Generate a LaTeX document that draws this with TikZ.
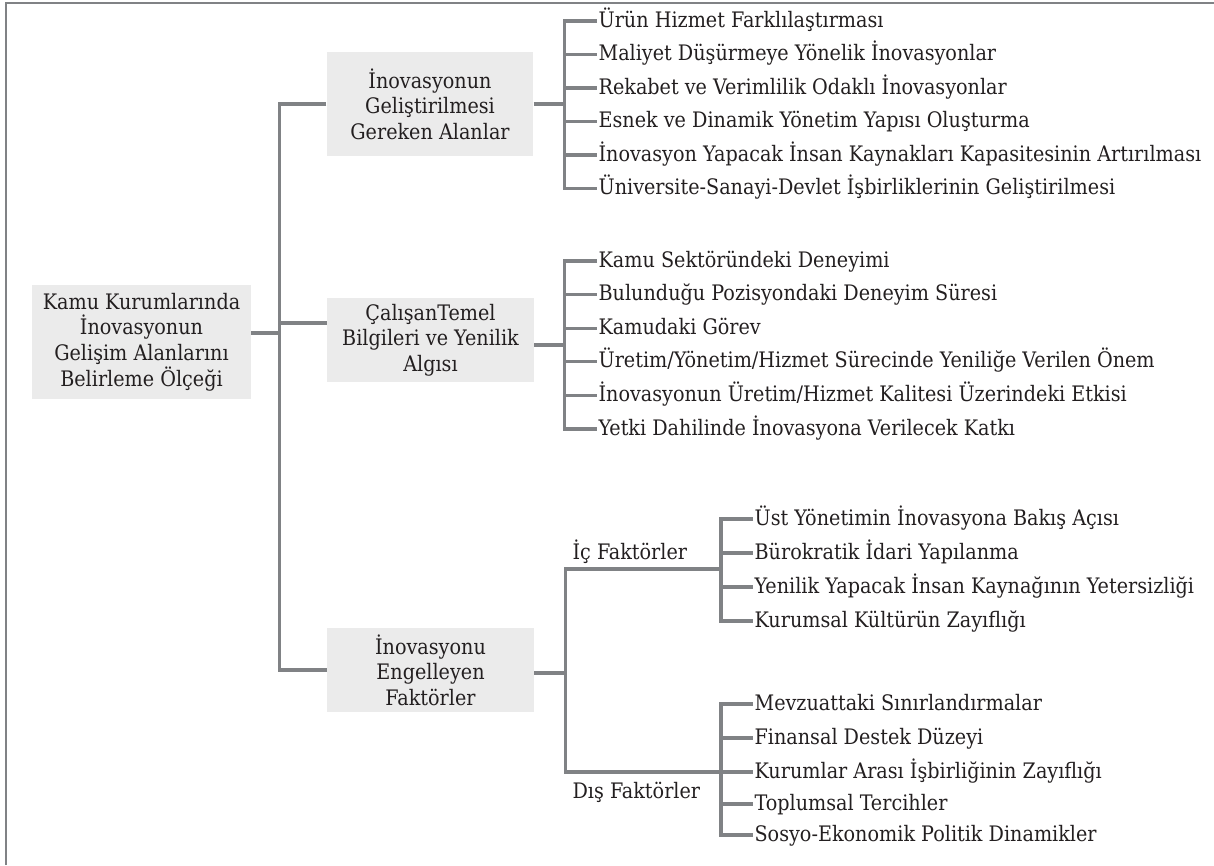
\documentclass[tikz,border=0pt]{standalone}
\usepackage{fontspec}
\setmainfont{DejaVu Serif Condensed}
\usetikzlibrary{calc}
\definecolor{linegray}{RGB}{128,130,133}
\definecolor{boxgray}{RGB}{235,235,235}
\definecolor{inkgray}{RGB}{35,31,32}

\begin{document}
\begin{tikzpicture}[x=0.75pt, y=-0.75pt,
    kutu/.style={fill=boxgray, text=inkgray, align=center, inner sep=0pt,
        minimum width=155pt, font=\fontsize{16}{19.2}\selectfont},
    madde/.style={anchor=west, inner sep=1pt, text=inkgray,
        text height=12.5pt, text depth=3.5pt,
        font=\fontsize{16}{19.2}\selectfont},
    baglanti/.style={draw=linegray, line width=2.3pt},
    cerceve/.style={draw=linegray, line width=1.8pt}]
    %%%%% START %%%%%

    \useasboundingbox (0,0) rectangle (1214,865);
    \draw[cerceve] (6,865) -- (6,3) -- (1214,3);

    % kutular
    \node[kutu, minimum width=164pt, minimum height=85.5pt] (kok) at (141.5,342)
        {Kamu Kurumlarında\\İnovasyonun\\Gelişim Alanlarını\\Belirleme Ölçeği};
    \node[kutu, minimum height=78pt] (alan) at (430,104)
        {İnovasyonun\\Geliştirilmesi\\Gereken Alanlar};
    \node[kutu, minimum height=63pt] (calisan) at (430.5,340)
        {ÇalışanTemel\\Bilgileri ve Yenilik\\Algısı};
    \node[kutu, minimum height=63pt] (engel) at (430.5,670)
        {İnovasyonu\\Engelleyen\\Faktörler};

    % alanlar
    \node[madde] (a1) at (597,21) {Ürün Hizmet Farklılaştırması};
    \node[madde] (a2) at (597,54.5) {Maliyet Düşürmeye Yönelik İnovasyonlar};
    \node[madde] (a3) at (597,88) {Rekabet ve Verimlilik Odaklı İnovasyonlar};
    \node[madde] (a4) at (597,121.5) {Esnek ve Dinamik Yönetim Yapısı Oluşturma};
    \node[madde] (a5) at (597,155) {İnovasyon Yapacak İnsan Kaynakları Kapasitesinin Artırılması};
    \node[madde] (a6) at (597,188.5) {Üniversite-Sanayi-Devlet İşbirliklerinin Geliştirilmesi};

    % calisan
    \node[madde] (c1) at (597,261) {Kamu Sektöründeki Deneyimi};
    \node[madde] (c2) at (597,294.6) {Bulunduğu Pozisyondaki Deneyim Süresi};
    \node[madde] (c3) at (597,328.2) {Kamudaki Görev};
    \node[madde] (c4) at (597,361.8) {Üretim/Yönetim/Hizmet Sürecinde Yeniliğe Verilen Önem};
    \node[madde] (c5) at (597,395.4) {İnovasyonun Üretim/Hizmet Kalitesi Üzerindeki Etkisi};
    \node[madde] (c6) at (597,429) {Yetki Dahilinde İnovasyona Verilecek Katkı};

    % engeller
    \node[madde] (icf) at (571,553) {İç Faktörler};
    \node[madde] (disf) at (571,792) {Dış Faktörler};

    \node[madde] (ic1) at (753,519) {Üst Yönetimin İnovasyona Bakış Açısı};
    \node[madde] (ic2) at (753,553) {Bürokratik İdari Yapılanma};
    \node[madde] (ic3) at (753,587) {Yenilik Yapacak İnsan Kaynağının Yetersizliği};
    \node[madde] (ic4) at (753,621) {Kurumsal Kültürün Zayıflığı};

    \node[madde] (dis1) at (753,704) {Mevzuattaki Sınırlandırmalar};
    \node[madde] (dis2) at (753,738) {Finansal Destek Düzeyi};
    \node[madde] (dis3) at (753,772) {Kurumlar Arası İşbirliğinin Zayıflığı};
    \node[madde] (dis4) at (753,804) {Toplumsal Tercihler};
    \node[madde] (dis5) at (753,835) {Sosyo-Ekonomik Politik Dinamikler};

    % ana dallar
    \coordinate (kokcikis) at ([yshift=6.75pt]kok.east);
    \path (kokcikis) ++(28,0) coordinate (govde);
    \coordinate (calisangiris) at ([yshift=12.75pt]calisan.west);
    \draw[baglanti] (kokcikis) -- (govde);
    \draw[baglanti] (alan.west) -| (govde |- engel.west) -- (engel.west);
    \draw[baglanti] (calisangiris) -- (govde |- calisangiris);

    % alan dallari
    \path (alan.east) ++(31,0) coordinate (g1);
    \draw[baglanti] (alan.east) -- (g1);
    \draw[baglanti] (a1.west) -| (g1 |- a6.west) -- (a6.west);
    \draw[baglanti] (g1 |- a2.west) -- (a2.west);
    \draw[baglanti] (g1 |- a3.west) -- (a3.west);
    \draw[baglanti] (g1 |- a4.west) -- (a4.west);
    \draw[baglanti] (g1 |- a5.west) -- (a5.west);

    % calisan dallari
    \coordinate (calisancikis) at ([yshift=-3.75pt]calisan.east);
    \path (calisancikis) ++(30,0) coordinate (g2);
    \draw[baglanti] (calisancikis) -- (g2);
    \draw[baglanti] (c1.west) -| (g2 |- c6.west) -- (c6.west);
    \draw[baglanti] (g2 |- c2.west) -- (c2.west);
    \draw[baglanti] (g2 |- c3.west) -- (c3.west);
    \draw[baglanti] (g2 |- c4.west) -- (c4.west);
    \draw[baglanti] (g2 |- c5.west) -- (c5.west);

    % engel dallari
    \coordinate (engelcikis) at ([yshift=-2.25pt]engel.east);
    \path (engelcikis) ++(31,0) coordinate (g3);
    \coordinate (ick) at (721,569);
    \coordinate (disk) at (dis3.west -| 721,0);
    \draw[baglanti] (engelcikis) -- (g3);
    \draw[baglanti] (ick) -| (g3) |- (disk);

    \draw[baglanti] (ic1.west) -| (ick |- ic4.west) -- (ic4.west);
    \draw[baglanti] (ick |- ic2.west) -- (ic2.west);
    \draw[baglanti] (ick |- ic3.west) -- (ic3.west);

    \draw[baglanti] (dis1.west) -| (disk |- dis5.west) -- (dis5.west);
    \draw[baglanti] (disk |- dis2.west) -- (dis2.west);
    \draw[baglanti] (disk |- dis3.west) -- (dis3.west);
    \draw[baglanti] (disk |- dis4.west) -- (dis4.west);

    %%%%% END %%%%%
\end{tikzpicture}
\end{document}
